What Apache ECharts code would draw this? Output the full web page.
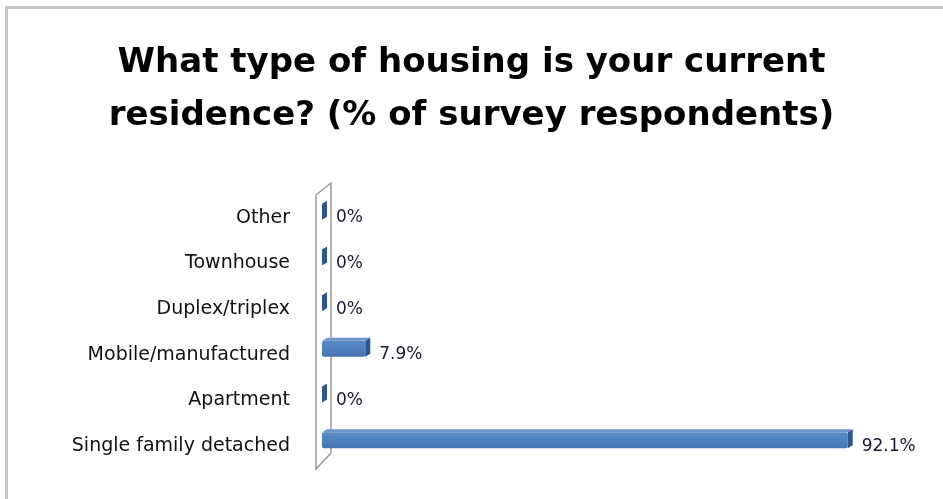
<!DOCTYPE html>
<html>
<head>
<meta charset="utf-8">
<script src="https://cdn.jsdelivr.net/npm/echarts@6/dist/echarts.min.js"></script>
<style>html,body{margin:0;padding:0;background:#fff}#c{width:943px;height:499px}</style>
</head>
<body>
<div id="c"></div>
<script>
const categories = ['Single family detached', 'Apartment', 'Mobile/manufactured', 'Duplex/triplex', 'Townhouse', 'Other'];
const values = [92.1, 0, 7.9, 0, 0, 0];
const valueLabels = ['92.1%', '0%', '7.9%', '0%', '0%', '0%'];

const chart = echarts.init(document.getElementById('c'));
const DEPTH = 5, BAR_H = 16, OFFSET = -6;

function renderBar(params, api) {
  const idx = api.value(0);
  const v = api.value(1);
  const p0 = api.coord([0, idx]);
  const p1 = api.coord([v, idx]);
  const x0 = p0[0] + 2, x1 = Math.max(p1[0], x0);
  const yc = p0[1] + OFFSET;
  const top = yc - BAR_H / 2, bot = yc + BAR_H / 2;
  const children = [];
  if (x1 > x0) {
    children.push({ type: 'rect', shape: { x: x0, y: top, width: x1 - x0, height: BAR_H, r: 2 },
      style: { fill: new echarts.graphic.LinearGradient(0, 0, 0, 1, [
        { offset: 0, color: '#5a8bc6' }, { offset: 0.5, color: '#4f81bd' }, { offset: 1, color: '#4675ad' }]) } });
    children.push({ type: 'polygon', shape: { points: [[x0, top], [x0 + DEPTH, top - 3], [x1 + DEPTH, top - 3], [x1, top]] },
      style: { fill: '#6d97cb' } });
  }
  children.push({ type: 'polygon', shape: { points: [[x1, top], [x1 + DEPTH, top - 3], [x1 + DEPTH, bot - 3], [x1, bot]] },
    style: { fill: '#2f5687' } });
  children.push({ type: 'text', style: { text: valueLabels[idx], x: x1 + DEPTH + 9, y: p0[1], verticalAlign: 'middle',
    font: '17px "DejaVu Sans"', fill: '#1a1a2e' } });
  return { type: 'group', children };
}

chart.setOption({
  animation: false,
  title: {
    text: 'What type of housing is your current\nresidence? (% of survey respondents)',
    left: 'center', top: 32,
    textStyle: { fontFamily: 'DejaVu Sans', fontWeight: 'bold', fontSize: 34, lineHeight: 53, color: '#000' }
  },
  grid: { left: 320, right: 50, top: 195, bottom: 30 },
  xAxis: { type: 'value', min: 0, max: 100, show: false },
  yAxis: {
    type: 'category', data: categories,
    axisLine: { show: false }, axisTick: { show: false },
    axisLabel: { margin: 30, fontFamily: 'DejaVu Sans', fontSize: 19, color: '#111' }
  },
  series: [{
    type: 'custom', renderItem: renderBar, z: 5,
    data: values.map((v, i) => [i, v])
  }]
});

// decorative 3D wall and chart frame
const pTop = chart.convertToPixel({ gridIndex: 0 }, [0, 5]);
const wx = pTop[0] - 4;
const yTop = 195, yBot = 469;
chart.setOption({
  graphic: [
    { type: 'polygon', z: 1, shape: { points: [[wx, yTop], [wx + 15, yTop - 12], [wx + 15, yBot - 16], [wx, yBot]] },
      style: { fill: '#fff', stroke: '#9a9a9a', lineWidth: 1.5 } },
    { type: 'line', shape: { x1: 6.5, y1: 8, x2: 6.5, y2: 499 }, style: { stroke: '#c4c4c4', lineWidth: 3 } },
    { type: 'line', shape: { x1: 5, y1: 7.5, x2: 943, y2: 7.5 }, style: { stroke: '#c4c4c4', lineWidth: 3 } }
  ]
});
</script>
</body>
</html>
